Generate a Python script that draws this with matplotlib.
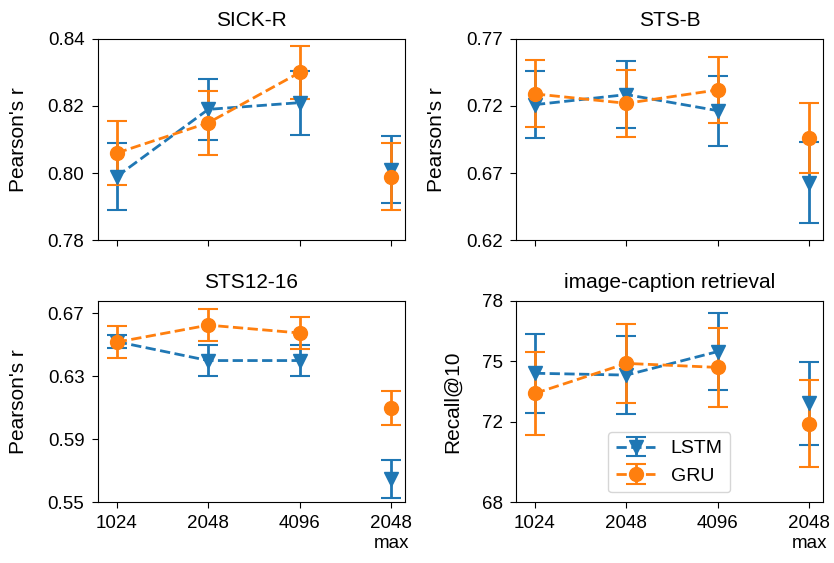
import numpy as np
import matplotlib
matplotlib.use("Agg")
import matplotlib.pyplot as plt

plt.rcParams['font.family'] = ['Liberation Sans', 'DejaVu Sans']
plt.rcParams['font.size'] = 13.5

# x categories (equally spaced)
tick_labels = ["1024", "2048", "4096", "2048\nmax"]
xpos = np.arange(len(tick_labels))

titles = ["SICK-R", "STS-B", "STS12-16", "image-caption retrieval"]
ylabels = ["Pearson's r", "Pearson's r", "Pearson's r", "Recall@10"]

# LSTM values / errors per task
lstm_mean = [
    [0.799, 0.819, 0.821, 0.801],
    [0.721, 0.7285, 0.7165, 0.663],
    [0.652, 0.640, 0.640, 0.5646],
    [74.40, 74.31, 75.48, 72.90],
]
lstm_err = [
    [0.010, 0.009, 0.0095, 0.010],
    [0.025, 0.025, 0.026, 0.030],
    [0.004, 0.0097, 0.0097, 0.012],
    [1.95, 1.95, 1.9, 2.05],
]
# GRU values / errors per task
gru_mean = [
    [0.806, 0.815, 0.830, 0.799],
    [0.729, 0.722, 0.732, 0.696],
    [0.6517, 0.6625, 0.6575, 0.6098],
    [73.40, 74.89, 74.69, 71.90],
]
gru_err = [
    [0.0095, 0.0096, 0.008, 0.010],
    [0.025, 0.025, 0.0245, 0.026],
    [0.010, 0.010, 0.010, 0.011],
    [2.05, 1.95, 1.95, 2.15],
]

yticks = [
    [0.78, 0.80, 0.82, 0.84],
    [0.62, 0.67, 0.72, 0.77],
    [0.55, 0.59, 0.63, 0.67],
    [68, 72, 75, 78],
]
ylims = [(0.78, 0.84), (0.62, 0.77), (0.55, 0.678), (68, 78)]
ytick_fmt = ["{:.2f}", "{:.2f}", "{:.2f}", "{:.0f}"]

blue = "#1f77b4"
orange = "#ff7f0e"

fig, axes = plt.subplots(2, 2, figsize=(8.34, 5.63), dpi=100)
plt.subplots_adjust(left=0.117, right=0.987, top=0.931, bottom=0.108,
                    wspace=0.36, hspace=0.30)

for i, ax in enumerate(axes.flat):
    style = dict(capsize=7, elinewidth=2, capthick=1.5, markersize=10, linewidth=2)
    # connected part (first three sizes)
    ax.errorbar(xpos[:3], lstm_mean[i][:3], yerr=lstm_err[i][:3], fmt='v--',
                color=blue, label="LSTM", **style)
    ax.errorbar(xpos[3:], lstm_mean[i][3:], yerr=lstm_err[i][3:], fmt='v',
                color=blue, **style)
    ax.errorbar(xpos[:3], gru_mean[i][:3], yerr=gru_err[i][:3], fmt='o--',
                color=orange, label="GRU", **style)
    ax.errorbar(xpos[3:], gru_mean[i][3:], yerr=gru_err[i][3:], fmt='o',
                color=orange, **style)

    ax.set_title(titles[i], fontsize=15, pad=9)
    ax.set_ylabel(ylabels[i], fontsize=15, labelpad=14)
    ax.set_xlim(-0.21, 3.15)
    ax.set_ylim(*ylims[i])
    ax.set_yticks(yticks[i])
    ax.set_yticklabels([ytick_fmt[i].format(v) for v in yticks[i]])
    ax.set_xticks(xpos)
    ax.tick_params(length=4.5, pad=5)
    if i >= 2:
        ax.set_xticklabels(tick_labels)
    else:
        ax.set_xticklabels([])

axes[1, 1].legend(loc="lower center", fontsize=14)

fig.savefig("out.png", dpi=100)
